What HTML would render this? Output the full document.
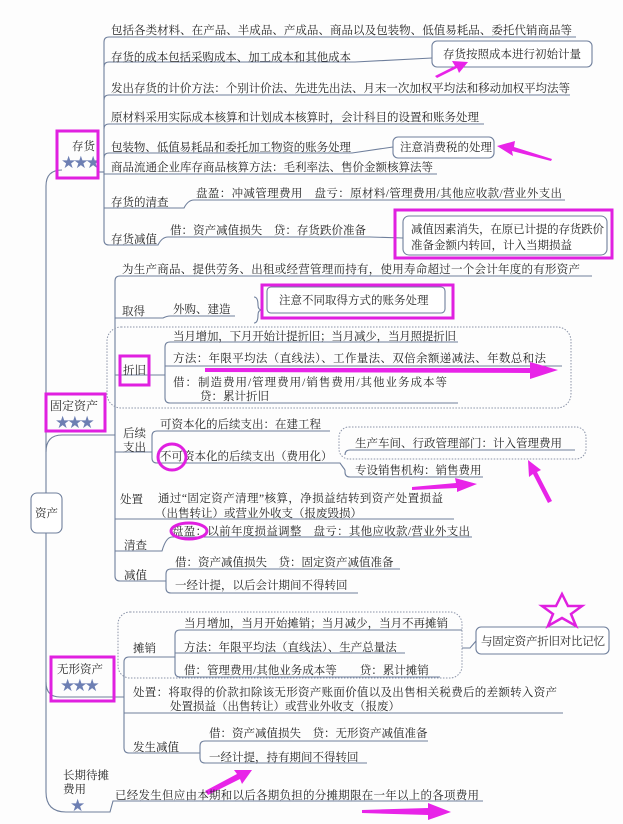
<!DOCTYPE html>
<html><head><meta charset="utf-8"><style>
html,body{margin:0;padding:0;background:#fff;}
svg{display:block;}
text{font-family:"Liberation Serif","Noto Serif CJK SC","Noto Sans CJK SC",serif;font-size:11.5px;fill:#262626;}
.l{stroke:#6f7f9c;stroke-width:1.1;fill:none;}
.d{stroke:#8a93a8;stroke-width:1;fill:none;stroke-dasharray:1.5 1.5;}
.m{stroke:#e020e0;stroke-width:3;fill:none;}
.mf{fill:#e824e8;}
.st{fill:#6d7fb3;font-size:17px;font-family:"DejaVu Sans",sans-serif;letter-spacing:-3px;}
</style></head><body>
<svg width="623" height="824" viewBox="0 0 623 824" xmlns="http://www.w3.org/2000/svg">
<rect width="623" height="824" fill="#fdfdfd"/>

<path class="l" d="M62,170 Q46,170 46,186 L46,792 Q46,812 66,812 L110,812 L113,801 L483,801"/>
<rect x="31" y="493" width="31" height="40" rx="6" fill="#fff" stroke="#6f7f9c" stroke-width="1.1"/>
<text x="35" y="517">资产</text>

<!-- 存货 -->
<path class="l" d="M98,172 L104,172"/>
<path class="l" d="M104,42 Q104,37 109,37 L576,37"/>
<path class="l" d="M104,42 L104,240 Q104,245 109,245"/>
<text x="111" y="34" textLength="461">包括各类材料、在产品、半成品、产成品、商品以及包装物、低值易耗品、委托代销商品等</text>
<path class="l" d="M104,67 Q104,62 109,62 L355,62 L432,58"/>
<text x="111" y="61" textLength="240">存货的成本包括采购成本、加工成本和其他成本</text>
<rect x="432" y="41" width="160" height="26" rx="5" fill="#fff" stroke="#6f7f9c" stroke-width="1.1"/>
<text x="443" y="58">存货按照成本进行初始计量</text>
<path class="l" d="M104,100 Q104,95 109,95 L570,95"/>
<text x="111" y="92" textLength="459">发出存货的计价方法：个别计价法、先进先出法、月末一次加权平均法和移动加权平均法等</text>
<path class="l" d="M104,129 Q104,124 109,124 L484,124"/>
<text x="111" y="121" textLength="368">原材料采用实际成本核算和计划成本核算时，会计科目的设置和账务处理</text>
<path class="l" d="M104,158 Q104,153 109,153 L352,153 L393,147"/>
<text x="111" y="151" textLength="240">包装物、低值易耗品和委托加工物资的账务处理</text>
<rect x="393" y="137" width="101" height="21" rx="5" fill="#fff" stroke="#6f7f9c" stroke-width="1.1"/>
<text x="400" y="151">注意消费税的处理</text>
<path class="l" d="M104,174 L437,174"/>
<text x="111" y="171" textLength="322">商品流通企业库存商品核算方法：毛利率法、售价金额核算法等</text>
<path class="l" d="M104,208 L184,208 Q188,200 194,200 L565,200"/>
<text x="111" y="206">存货的清查</text>
<text x="196" y="197" textLength="366">盘盈：冲减管理费用　盘亏：原材料/管理费用/其他应收款/营业外支出</text>
<path class="l" d="M109,245 L158,245 Q162,237 168,237 L370,237 L403,238"/>
<text x="111" y="243">存货减值</text>
<text x="170" y="234" textLength="196">借：资产减值损失　贷：存货跌价准备</text>
<rect x="403" y="216" width="204" height="39" rx="6" fill="#fff" stroke="#6f7f9c" stroke-width="1.1"/>
<text x="411" y="233" textLength="193">减值因素消失，在原已计提的存货跌价</text>
<text x="411" y="249">准备金额内转回，计入当期损益</text>
<rect x="395" y="210" width="217" height="48" class="m"/>
<text x="72" y="150">存货</text>
<text x="61" y="168" class="st">★★★</text>
<rect x="57" y="131" width="41" height="47" class="m"/>
<polygon class="mf" points="435,76 455,66 452,61 468,62 459,73 457,68 437,78"/>
<polygon class="mf" points="551,161 512,151 513,156 497,146 515,141 514,147 552,159"/>

<!-- 固定资产 -->
<path class="l" d="M46,452 Q46,435 62,435 L115,435"/>
<path class="l" d="M115,281 Q115,276 120,276 L592,276"/>
<path class="l" d="M115,281 L115,576 Q115,581 120,581"/>
<text x="122" y="273" textLength="458">为生产商品、提供劳务、出租或经营管理而持有，使用寿命超过一个会计年度的有形资产</text>
<path class="l" d="M115,318 L163,318 Q167,316 170,316 L235,316"/>
<text x="122" y="315">取得</text>
<text x="173" y="313">外购、建造</text>
<path class="l" d="M254,297 Q258,297 258,305 Q258,310 262,310 Q258,310 258,315 Q258,323 254,323"/>
<rect x="267" y="287" width="178" height="26" rx="4" fill="#fff" stroke="#6f7f9c" stroke-width="1.1"/>
<text x="279" y="304">注意不同取得方式的账务处理</text>
<rect x="262" y="285" width="191" height="33" class="m"/>
<rect x="107" y="327" width="464" height="81" rx="14" class="d"/>
<path class="l" d="M115,375 L165,375"/>
<path class="l" d="M170,342 Q165,342 165,347 L165,398 Q165,403 170,403 L458,403"/>
<path class="l" d="M170,342 L458,342"/>
<path class="l" d="M165,366 L562,366"/>
<text x="173" y="340" textLength="283">当月增加，下月开始计提折旧；当月减少，当月照提折旧</text>
<text x="173" y="362" textLength="373">方法：年限平均法（直线法）、工作量法、双倍余额递减法、年数总和法</text>
<text x="173" y="386" textLength="274">借：制造费用/管理费用/销售费用/其他业务成本等</text>
<text x="200" y="400">贷：累计折旧</text>
<text x="123" y="374">折旧</text>
<rect x="120" y="356" width="29" height="29" class="m"/>
<polygon class="mf" points="205,368 530,368 530,362 558,370 530,379 530,373 205,372"/>
<path class="l" d="M115,452 L152,452"/>
<path class="l" d="M157,431 Q152,431 152,436 L152,458 Q152,463 157,463 L340,463 L345,470"/>
<path class="l" d="M157,431 L330,431"/>
<text x="123" y="437">后续</text>
<text x="123" y="451">支出</text>
<text x="160" y="428">可资本化的后续支出：在建工程</text>
<text x="160" y="460">不可资本化的后续支出（费用化）</text>
<ellipse cx="172" cy="457" rx="14" ry="13" class="m"/>
<rect x="339" y="427" width="247" height="32" rx="10" class="d"/>
<path class="l" d="M345,455 Q345,450 350,450 L575,450"/>
<path class="l" d="M345,470 L345,472 Q345,477 350,477 L483,477"/>
<text x="355" y="447">生产车间、行政管理部门：计入管理费用</text>
<text x="355" y="474">专设销售机构：销售费用</text>
<polygon class="mf" points="412,487 456,483 455,478 477,484 457,492 457,488 412,490"/>
<polygon class="mf" points="548,503 533,474 529,477 528,460 541,470 537,472 552,501"/>
<path class="l" d="M115,519 L454,519"/>
<text x="120" y="503">处置</text>
<text x="158" y="502" textLength="285">通过“固定资产清理”核算，净损益结转到资产处置损益</text>
<text x="155" y="517">（出售转让）或营业外收支（报废毁损）</text>
<path class="l" d="M115,551 L162,551 Q166,537 172,537 L472,537"/>
<text x="124" y="549">清查</text>
<text x="172" y="535" textLength="298">盘盈：以前年度损益调整　盘亏：其他应收款/营业外支出</text>
<ellipse cx="189" cy="531" rx="18" ry="8" class="m"/>
<path class="l" d="M120,581 L166,581"/>
<path class="l" d="M171,569 Q166,569 166,574 L166,588 Q166,593 171,593 L358,593"/>
<path class="l" d="M171,569 L400,569"/>
<text x="124" y="579">减值</text>
<text x="175" y="566">借：资产减值损失　贷：固定资产减值准备</text>
<text x="175" y="589">一经计提，以后会计期间不得转回</text>
<rect x="46" y="394" width="59" height="37" class="m"/>
<text x="50" y="410" style="font-size:12px">固定资产</text>
<text x="55" y="428" class="st">★★★</text>

<!-- 无形资产 -->
<path class="l" d="M46,682 Q46,697 60,697 L124,697"/>
<path class="l" d="M124,662 Q124,657 129,657 L175,657"/>
<path class="l" d="M124,662 L124,748 Q124,753 129,753 L200,753"/>
<rect x="118" y="612" width="344" height="66" rx="12" class="d"/>
<path class="l" d="M180,630 Q175,630 175,635 L175,672 Q175,677 180,677 L440,677"/>
<path class="l" d="M180,630 L462,630"/>
<path class="l" d="M175,653 L405,653"/>
<path class="l" d="M462,648 L470,648 L476,641"/>
<text x="133" y="652">摊销</text>
<text x="184" y="627" textLength="264">当月增加，当月开始摊销；当月减少，当月不再摊销</text>
<text x="184" y="651">方法：年限平均法（直线法）、生产总量法</text>
<text x="184" y="674">借：管理费用/其他业务成本等　　贷：累计摊销</text>
<rect x="476" y="627" width="133" height="27" rx="5" fill="#fff" stroke="#6f7f9c" stroke-width="1.1"/>
<text x="481" y="645" textLength="124">与固定资产折旧对比记忆</text>
<polygon points="562,594 568,606 582,606 571,614 576,626 562,618 548,626 553,614 542,606 556,606" fill="none" stroke="#e020e0" stroke-width="2.5"/>
<path class="l" d="M124,713 L563,713"/>
<text x="133" y="696" textLength="424">处置：将取得的价款扣除该无形资产账面价值以及出售相关税费后的差额转入资产</text>
<text x="170" y="710">处置损益（出售转让）或营业外收支（报废）</text>
<path class="l" d="M205,741 Q200,741 200,746 L200,758 Q200,763 205,763 L367,763"/>
<path class="l" d="M205,741 L428,741"/>
<text x="133" y="751">发生减值</text>
<text x="209" y="737">借：资产减值损失　贷：无形资产减值准备</text>
<text x="209" y="761">一经计提，持有期间不得转回</text>
<text x="57" y="673">无形资产</text>
<text x="60" y="691" class="st">★★★</text>
<rect x="51" y="657" width="63" height="44" class="m"/>
<polygon class="mf" points="205,791 237,774 234,770 252,770 242,784 240,779 208,795"/>

<text x="63" y="779">长期待摊</text>
<text x="63" y="793">费用</text>
<text x="70" y="811" class="st">★</text>
<text x="115" y="799" textLength="364">已经发生但应由本期和以后各期负担的分摊期限在一年以上的各项费用</text>
<polygon class="mf" points="362,810 428,808 428,803 451,812 428,820 428,815 362,813"/>
</svg>
</body></html>
